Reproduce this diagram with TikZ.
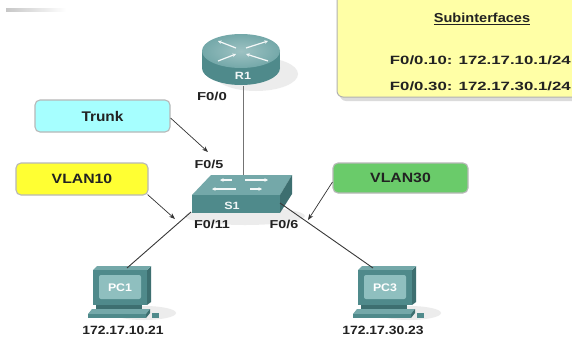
\documentclass[tikz,border=0pt]{standalone}
\usepackage{fontspec}
\usepackage{graphicx}
\setmainfont{Liberation Sans}
\usetikzlibrary{arrows.meta,calc}
\definecolor{tealA}{HTML}{4F8A8B}
\definecolor{tealB}{HTML}{74A8A9}
\definecolor{tealC}{HTML}{3D6F70}
\definecolor{scrn}{HTML}{8FBFBF}
\definecolor{subfill}{HTML}{FFFFA6}
\definecolor{trunkfill}{HTML}{A6FFFF}
\definecolor{vtenfill}{HTML}{FFFF33}
\definecolor{vthirtyfill}{HTML}{6ACB6A}
\definecolor{txt}{HTML}{222222}
\newcommand\hstr[2]{\scalebox{#1}[1]{#2}}
\newcommand\fsz[1]{\fontsize{#1}{#1}\selectfont\bfseries}
\tikzset{
  lbox/.style={draw=black!28, line width=1.1pt, rounded corners=5pt, inner sep=0pt, text=txt},
  port/.style={inner sep=0pt, text=txt, font=\fsz{11.5}},
  wire/.style={line width=0.9pt, draw=black!78},
  pointer/.style={line width=0.7pt, draw=black!80, -{Stealth[length=6pt,width=4.5pt]}},
  wharrow/.style={line width=1.2pt, draw=white!92!tealB, -{Stealth[length=3.5pt,width=3.5pt]}},
}
\newcommand\drawpc[2]{%
  \fill[black!12, opacity=.6] ({#1+24},313) ellipse[x radius=32, y radius=7];
  \fill[tealC] ({#1+27},270) -- ({#1+31},266) -- ({#1+31},302) -- ({#1+27},305) -- cycle;
  \fill[tealB] ({#1-27},270) -- ({#1+27},270) -- ({#1+31},266) -- ({#1-23},266) -- cycle;
  \fill[tealA] ({#1-27},270) rectangle ({#1+27},305);
  \fill[scrn, rounded corners=2pt] ({#1-21},275) rectangle ({#1+21},299);
  \node[inner sep=0pt, text=white, font=\fsz{11}] at (#1,287.5) {\hstr{1.12}{#2}};
  \fill[tealC] ({#1-24},305) rectangle ({#1+22},309);
  \fill[tealB] ({#1-32},314) -- ({#1+26},314) -- ({#1+30},309) -- ({#1-28},309) -- cycle;
  \fill[tealA] ({#1-32},314) rectangle ({#1+26},318);
  \fill[tealC] ({#1+26},314) -- ({#1+30},309) -- ({#1+30},313) -- ({#1+26},318) -- cycle;
  \fill[tealA] ({#1+32},313) rectangle ({#1+39},318);
}
\begin{document}
\begin{tikzpicture}[x=1pt, y=-1pt]
\useasboundingbox (0,0) rectangle (572,343);
\clip (0,0) rectangle (572,343);
\fill[white] (0,0) rectangle (572,343);
% faint rule top-left
\shade[left color=black!22, right color=white] (6,8) rectangle (66,11);

% Subinterfaces box
\fill[black!14, rounded corners=6pt] (340,-10) rectangle (604,101);
\filldraw[fill=subfill, draw=black!30, line width=1pt, rounded corners=6pt] (337,-10) rectangle (600,97);
\node[inner sep=0pt, text=txt, font=\fsz{13}] (subt) at (482,19) {\hstr{1.12}{\underline{Subinterfaces}}};
\node[inner sep=0pt, text=txt, font=\fsz{12}, anchor=east] (sub10) at (571,60) {\hstr{1.4}{F0/0.10: 172.17.10.1/24}};
\node[inner sep=0pt, text=txt, font=\fsz{12}, anchor=east] (sub30) at (571,86) {\hstr{1.4}{F0/0.30: 172.17.30.1/24}};

% Router R1
\fill[black!10, opacity=.7] (256,74) ellipse[x radius=42, y radius=17];
\fill[tealA] (241,68) ellipse[x radius=39, y radius=17];
\fill[tealA] (202,51) rectangle (280,68);
\shade[inner color=tealB!70!white, outer color=tealB] (241,51) ellipse[x radius=39, y radius=17];
\draw[wharrow] (236,48) -- (218,41);
\draw[wharrow] (246,48) -- (268,41);
\draw[wharrow] (218,61) -- (236,54);
\draw[wharrow] (268,61) -- (246,54);
\node[inner sep=0pt, text=white!90!tealB, font=\fsz{10.5}] (r1lab) at (243,76) {\hstr{1.2}{R1}};
\node[inner sep=0pt, minimum width=78pt, minimum height=55pt] (R1) at (241,59) {};
\coordinate (r1port) at (243,86);
\node[port] (f00) at (212,96) {\hstr{1.3}{F0/0}};

% Switch S1
\fill[black!10, opacity=.7] (245,216) ellipse[x radius=60, y radius=9];
\coordinate (s1top) at (243,175);
\coordinate (s1left) at (191,212);
\coordinate (s1right) at (280,203);
\draw[line width=0.9pt, draw=black!55] (r1port) -- (s1top);
\fill[tealB] (192,195) -- (280,195) -- (292,175) -- (211,175) -- cycle;
\fill[tealA] (192,195) rectangle (280,213);
\fill[tealC] (280,195) -- (292,175) -- (292,194) -- (280,213) -- cycle;
\draw[wharrow] (232,180) -- (220,180);
\draw[wharrow] (245,180) -- (268,180);
\draw[wharrow] (236,189) -- (212,189);
\draw[wharrow] (250,189) -- (262,189);
\node[inner sep=0pt, text=white!90!tealB, font=\fsz{10.5}] (s1lab) at (232,206) {\hstr{1.2}{S1}};
\node[inner sep=0pt, minimum width=100pt, minimum height=40pt] (S1) at (242,194) {};

% PCs
\drawpc{120}{PC1}
\drawpc{385}{PC3}
\node[inner sep=0pt, minimum width=72pt, minimum height=52pt] (PC1) at (122,292) {};
\node[inner sep=0pt, minimum width=72pt, minimum height=52pt] (PC3) at (387,292) {};
\coordinate (pc1port) at (127,268);
\coordinate (pc3port) at (373,268);
\draw[wire] (s1left) -- (pc1port);
\draw[wire] (s1right) -- (pc3port);
\node[inner sep=0pt, text=txt, font=\fsz{12}] (ip1) at (123,330) {\hstr{1.16}{172.17.10.21}};
\node[inner sep=0pt, text=txt, font=\fsz{12}] (ip3) at (383,330) {\hstr{1.16}{172.17.30.23}};

% port labels
\node[port] (f05) at (209,164) {\hstr{1.25}{F0/5}};
\node[port] (f011) at (212,224) {\hstr{1.25}{F0/11}};
\node[port] (f06) at (284,224) {\hstr{1.25}{F0/6}};

% label boxes
\node[lbox, fill=trunkfill, minimum width=135pt, minimum height=32pt, font=\fsz{14}] (trunk) at (102.5,116) {\hstr{1.1}{Trunk}};
\node[lbox, fill=vtenfill, minimum width=132pt, minimum height=32pt, font=\fsz{13.5}] (vlan10) at (82,179) {\hstr{1.17}{VLAN10}};
\node[lbox, fill=vthirtyfill, minimum width=135pt, minimum height=30pt, font=\fsz{13.5}] (vlan30) at (400.5,178) {\hstr{1.17}{VLAN30}};

\coordinate (tipA) at (208,152);
\coordinate (tipB) at (175,219);
\coordinate (tipC) at (308,220);
\draw[pointer] ($(trunk.east)+(0,2)$) -- (tipA);
\draw[pointer] ($(vlan10.south east)+(-1,-1)$) -- (tipB);
\draw[pointer] ($(vlan30.west)+(0,4)$) -- (tipC);
\end{tikzpicture}
\end{document}
